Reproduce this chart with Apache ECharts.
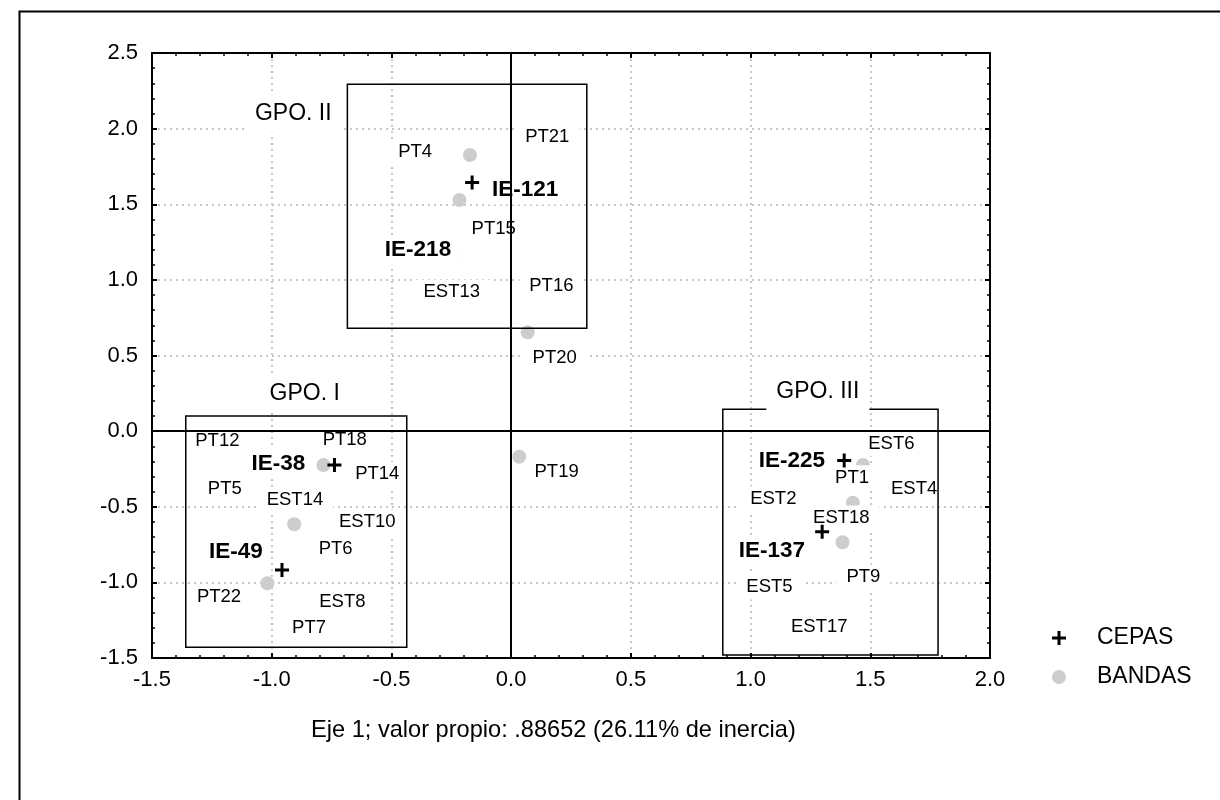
<!DOCTYPE html>
<html>
<head>
<meta charset="utf-8">
<script src="https://cdn.jsdelivr.net/npm/echarts@6/dist/echarts.min.js"></script>
<style>html,body{margin:0;padding:0;background:#fff;}#c{width:1220px;height:800px;}</style>
</head>
<body>
<div id="c"></div>
<script>
// ---- data ----
const xTickLabels = ['-1.5','-1.0','-0.5','0.0','0.5','1.0','1.5','2.0'];
const yTickLabels = ['-1.5','-1.0','-0.5','0.0','0.5','1.0','1.5','2.0','2.5'];

const cepasX = [-0.163, -0.255, -0.738, -0.957, 1.391, 1.299];
const cepasY = [1.643, 1.158, -0.224, -0.918, -0.195, -0.665];

const bandasX = [-0.172, -0.216, 0.069, 0.034, -0.784, -0.906, -1.018, 1.469, 1.427, 1.384];
const bandasY = [1.826, 1.528, 0.653, -0.169, -0.224, -0.616, -1.006, -0.224, -0.473, -0.735];

const strainLabelNames = ['IE-121','IE-218','IE-38','IE-49','IE-225','IE-137'];
const strainLabelX = [0.058, -0.389, -0.972, -1.15, 1.173, 1.089];
const strainLabelY = [1.594, 1.198, -0.217, -0.799, -0.193, -0.793];

const bandLabelNames = ['PT4','PT21','PT15','EST13','PT16','PT20','PT19','PT12','PT18','PT14','PT5','EST14','EST10','PT6','PT22','EST8','PT7','EST6','PT1','EST4','EST2','EST18','PT9','EST5','EST17'];
const bandLabelX = [-0.401, 0.151, -0.073, -0.248, 0.168, 0.182, 0.190, -1.227, -0.695, -0.559, -1.196, -0.903, -0.601, -0.733, -1.22, -0.705, -0.844, 1.588, 1.424, 1.683, 1.095, 1.379, 1.471, 1.079, 1.287];
const bandLabelY = [1.843, 1.943, 1.336, 0.918, 0.957, 0.486, -0.272, -0.067, -0.059, -0.286, -0.383, -0.455, -0.603, -0.782, -1.095, -1.128, -1.3, -0.083, -0.308, -0.383, -0.447, -0.574, -0.964, -1.031, -1.293];

const groupNames = ['GPO. I','GPO. II','GPO. III'];
const groupX = [-0.862, -0.91, 1.281];
const groupY = [0.245, 2.097, 0.259];

const boxX1 = [-1.359, -0.684, 0.884];
const boxX2 = [-0.436, 0.316, 1.783];
const boxY1 = [-1.429, 0.68, -1.48];
const boxY2 = [0.1, 2.293, 0.144];

const xTitle = 'Eje 1; valor propio: .88652 (26.11% de inercia)';
const seriesNames = ['CEPAS','BANDAS'];

// ---- chart ----
const FONT = '"Liberation Sans", Arial, Helvetica, sans-serif';
const PLUS = 'path://M5.5,0 H8.5 V5.5 H14 V8.5 H8.5 V14 H5.5 V8.5 H0 V5.5 H5.5 Z';
const chart = echarts.init(document.getElementById('c'), null, {renderer: 'canvas'});

function tickFmt(labels, min) {
  return function (v) {
    const i = Math.round((v - min) / 0.5);
    return labels[i] !== undefined ? labels[i] : '';
  };
}
const gridLine = {show: true, lineStyle: {color: '#c8c8c8', width: 2, type: [2, 4]}};
function frameAxis(extra) {
  return Object.assign({
    type: 'value', interval: 0.5,
    axisLine: {show: true, onZero: false, lineStyle: {color: '#000', width: 2}},
    axisTick: {show: true, inside: true, length: 5, lineStyle: {color: '#000', width: 2}},
    minorTick: {show: true, splitNumber: 5, length: 3, lineStyle: {color: '#000', width: 1.5}},
    splitLine: {show: false}
  }, extra);
}

const cepasData = cepasX.map((x, i) => [x, cepasY[i]]);
const bandasData = bandasX.map((x, i) => [x, bandasY[i]]);
const strainLabelData = strainLabelNames.map((n, i) => ({name: n, value: [strainLabelX[i], strainLabelY[i]]}));
const bandLabelData = bandLabelNames.map((n, i) => ({name: n, value: [bandLabelX[i], bandLabelY[i]]}));
const groupData = groupNames.map((n, i) => ({name: n, value: [groupX[i], groupY[i]]}));
const boxData = boxX1.map((x, i) => [x, boxY1[i], boxX2[i], boxY2[i]]);

function labelSeries(data, fontSize, weight, pad, z) {
  return {
    type: 'scatter', data: data, symbolSize: 0, silent: true, z: z,
    itemStyle: {opacity: 1},
    label: {
      show: true, position: 'inside', formatter: '{b}',
      fontFamily: FONT, fontSize: fontSize, fontWeight: weight, color: '#000',
      backgroundColor: '#fff', padding: pad
    },
    tooltip: {show: false}
  };
}

chart.setOption({
  backgroundColor: '#fff',
  animation: false,
  title: {
    text: xTitle, left: 311, top: 718, padding: 0,
    textStyle: {fontFamily: FONT, fontSize: 23.6, fontWeight: 'normal', color: '#000'}
  },
  legend: {
    data: seriesNames, orient: 'vertical', left: 1047, top: 620,
    itemWidth: 14, itemHeight: 14, itemGap: 13,
    textStyle: {fontFamily: FONT, fontSize: 23, color: '#000', lineHeight: 26, padding: [0, 0, 0, 26]}
  },
  grid: {left: 152, top: 53, width: 838, height: 605, containLabel: false},
  xAxis: [
    frameAxis({min: -1.5, max: 2.0, position: 'bottom',
      axisLabel: {show: true, margin: 11, fontFamily: FONT, fontSize: 22, color: '#000', formatter: tickFmt(xTickLabels, -1.5)},
      splitLine: gridLine}),
    frameAxis({min: -1.5, max: 2.0, position: 'top', axisLabel: {show: false}})
  ],
  yAxis: [
    frameAxis({min: -1.5, max: 2.5, position: 'left',
      axisLabel: {show: true, margin: 14, fontFamily: FONT, fontSize: 22, color: '#000', formatter: tickFmt(yTickLabels, -1.5)},
      splitLine: gridLine}),
    frameAxis({min: -1.5, max: 2.5, position: 'right', axisLabel: {show: false}})
  ],
  graphic: [{
    type: 'rect', left: 17, top: 9, silent: true, z: -1,
    shape: {x: 0, y: 0, width: 1300, height: 900},
    style: {fill: 'none', stroke: '#000', lineWidth: 2}
  }],
  series: [
    {
      type: 'custom', name: 'boxes', data: boxData, z: 3.5, silent: true,
      renderItem: function (params, api) {
        const p1 = api.coord([api.value(0), api.value(3)]);
        const p2 = api.coord([api.value(2), api.value(1)]);
        return {
          type: 'rect',
          shape: {x: p1[0], y: p1[1], width: p2[0] - p1[0], height: p2[1] - p1[1]},
          style: {fill: 'none', stroke: '#000', lineWidth: 1.5}
        };
      }
    },
    {
      type: 'scatter', name: 'BANDAS', data: bandasData, symbol: 'circle', symbolSize: 14, z: 2,
      itemStyle: {color: '#cdcdcd', opacity: 1},
      markLine: {
        silent: true, symbol: 'none', z: 5, animation: false,
        label: {show: false},
        lineStyle: {color: '#000', width: 2, type: 'solid'},
        data: [{xAxis: 0}, {yAxis: 0}]
      }
    },
    {
      type: 'scatter', name: 'CEPAS', data: cepasData, symbol: PLUS, symbolSize: 14, z: 3.2,
      itemStyle: {color: '#000', opacity: 1}
    },
    labelSeries(bandLabelData, 18.5, 'normal', [1, 10, 5, 10], 3),
    labelSeries(strainLabelData, 22.5, 'bold', [3, 6], 3.3),
    labelSeries(groupData, 23, 'normal', [7, 10], 4)
  ]
});
</script>
</body>
</html>
